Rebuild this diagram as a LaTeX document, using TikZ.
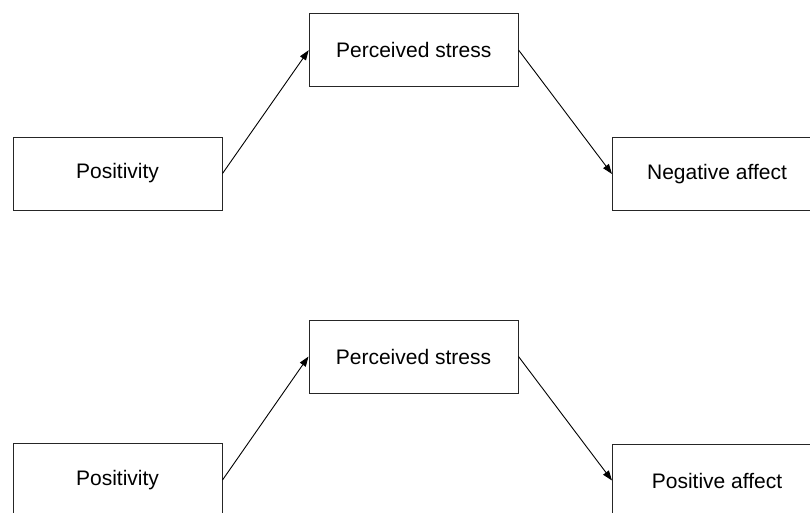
\documentclass[tikz,border=0pt]{standalone}
\usepackage{fontspec}
\setmainfont{Liberation Sans}
\usetikzlibrary{arrows.meta}
\begin{document}
\begin{tikzpicture}[x=1pt,y=-1pt,
  box/.style={draw=black!85,line width=1pt,minimum width=209pt,minimum height=73pt,inner sep=0pt,
    font=\fontsize{21}{25}\selectfont},
  link/.style={line width=0.9pt,-{Triangle[length=10pt,width=7pt]}}]
\useasboundingbox (0,0) rectangle (810,512);
\clip (0,0) rectangle (810,512);
\node[box] (pos1) at (117.5,173.5) {Positivity};
\node[box] (ps1) at (413.7,50.2) {Perceived stress};
\node[box] (na) at (717,174) {Negative affect};
\node[box] (ps2) at (413.5,356.5) {Perceived stress};
\node[box] (pos2) at (117.5,480) {Positivity};
\node[box] (pa) at (717,480.5) {Positive affect};
\draw[link] (pos1.east) -- (ps1.west);
\draw[link] (ps1.east) -- (na.west);
\draw[link] (pos2.east) -- (ps2.west);
\draw[link] (ps2.east) -- (pa.west);
\end{tikzpicture}
\end{document}
